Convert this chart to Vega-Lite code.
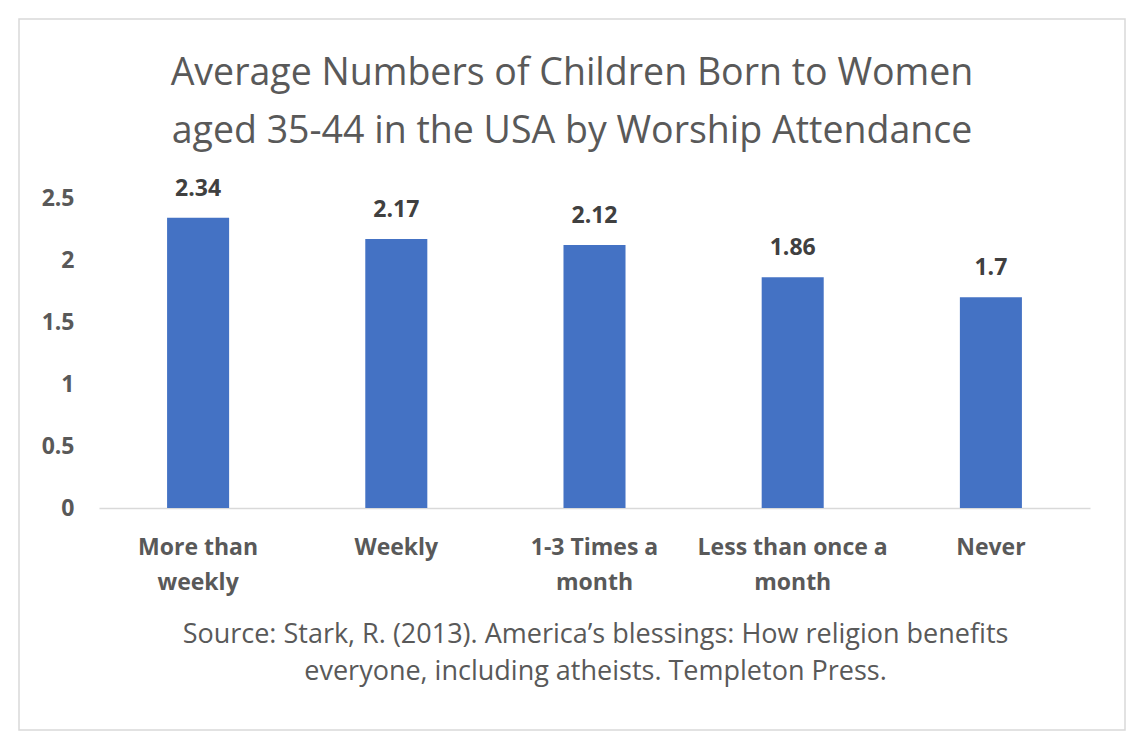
{
  "$schema": "https://vega.github.io/schema/vega-lite/v6.json",
  "autosize": {"type": "none"},
  "width": 1106,
  "height": 711,
  "padding": {"left": 19, "top": 19, "right": 13, "bottom": 10},
  "background": "white",
  "config": {
    "font": "Open Sans",
    "view": {"stroke": "#d9d9d9", "strokeWidth": 1.5, "fill": "white"}
  },
  "title": {
    "text": ["Average Numbers of Children Born to Women", "aged 35-44 in the USA by Worship Attendance"],
    "fontSize": 37.5,
    "fontWeight": "normal",
    "color": "#595959",
    "lineHeight": 58,
    "anchor": "middle",
    "frame": "group",
    "baseline": "top",
    "offset": -131
  },
  "data": {
    "values": [
      {"attendance": "More than weekly", "children": 2.34},
      {"attendance": "Weekly", "children": 2.17},
      {"attendance": "1-3 Times a month", "children": 2.12},
      {"attendance": "Less than once a month", "children": 1.86},
      {"attendance": "Never", "children": 1.7}
    ]
  },
  "encoding": {
    "x": {
      "field": "attendance",
      "type": "nominal",
      "sort": null,
      "scale": {"range": [80, 1071], "paddingInner": 0.687, "paddingOuter": 0.3435},
      "axis": {
        "orient": "bottom",
        "offset": -222,
        "domain": true,
        "domainColor": "#d9d9d9",
        "domainWidth": 1.5,
        "ticks": false,
        "grid": false,
        "labelAngle": 0,
        "labelFontWeight": "bold",
        "labelFontSize": 23,
        "labelColor": "#595959",
        "labelLineHeight": 35,
        "labelPadding": 28,
        "labelLimit": 400,
        "labelOverlap": false,
        "labelExpr": "datum.label == 'More than weekly' ? ['More than', 'weekly'] : datum.label == '1-3 Times a month' ? ['1-3 Times a', 'month'] : datum.label == 'Less than once a month' ? ['Less than once a', 'month'] : datum.label",
        "title": ["Source: Stark, R. (2013). America’s blessings: How religion benefits", "everyone, including atheists. Templeton Press."],
        "titleFontSize": 27,
        "titleFontWeight": "normal",
        "titleColor": "#595959",
        "titleLineHeight": 37,
        "titleX": 576,
        "titleY": 134,
        "titleAlign": "center",
        "titleBaseline": "alphabetic"
      }
    }
  },
  "layer": [
    {
      "mark": {"type": "bar", "color": "#4472C4"},
      "encoding": {
        "y": {
          "field": "children",
          "type": "quantitative",
          "scale": {"domain": [0, 2.5], "range": [489, 179], "nice": false},
          "axis": {
            "orient": "left",
            "offset": -55,
            "values": [0, 0.5, 1, 1.5, 2, 2.5],
            "format": "~g",
            "ticks": false,
            "domain": false,
            "grid": false,
            "labelPadding": 0,
            "labelFontWeight": "bold",
            "labelFontSize": 23,
            "labelColor": "#595959",
            "title": null
          }
        }
      }
    },
    {
      "mark": {"type": "text", "dy": -22, "baseline": "alphabetic", "fontWeight": "bold", "fontSize": 23, "color": "#404040"},
      "encoding": {
        "y": {"field": "children", "type": "quantitative"},
        "text": {"field": "children", "type": "nominal"}
      }
    }
  ]
}
